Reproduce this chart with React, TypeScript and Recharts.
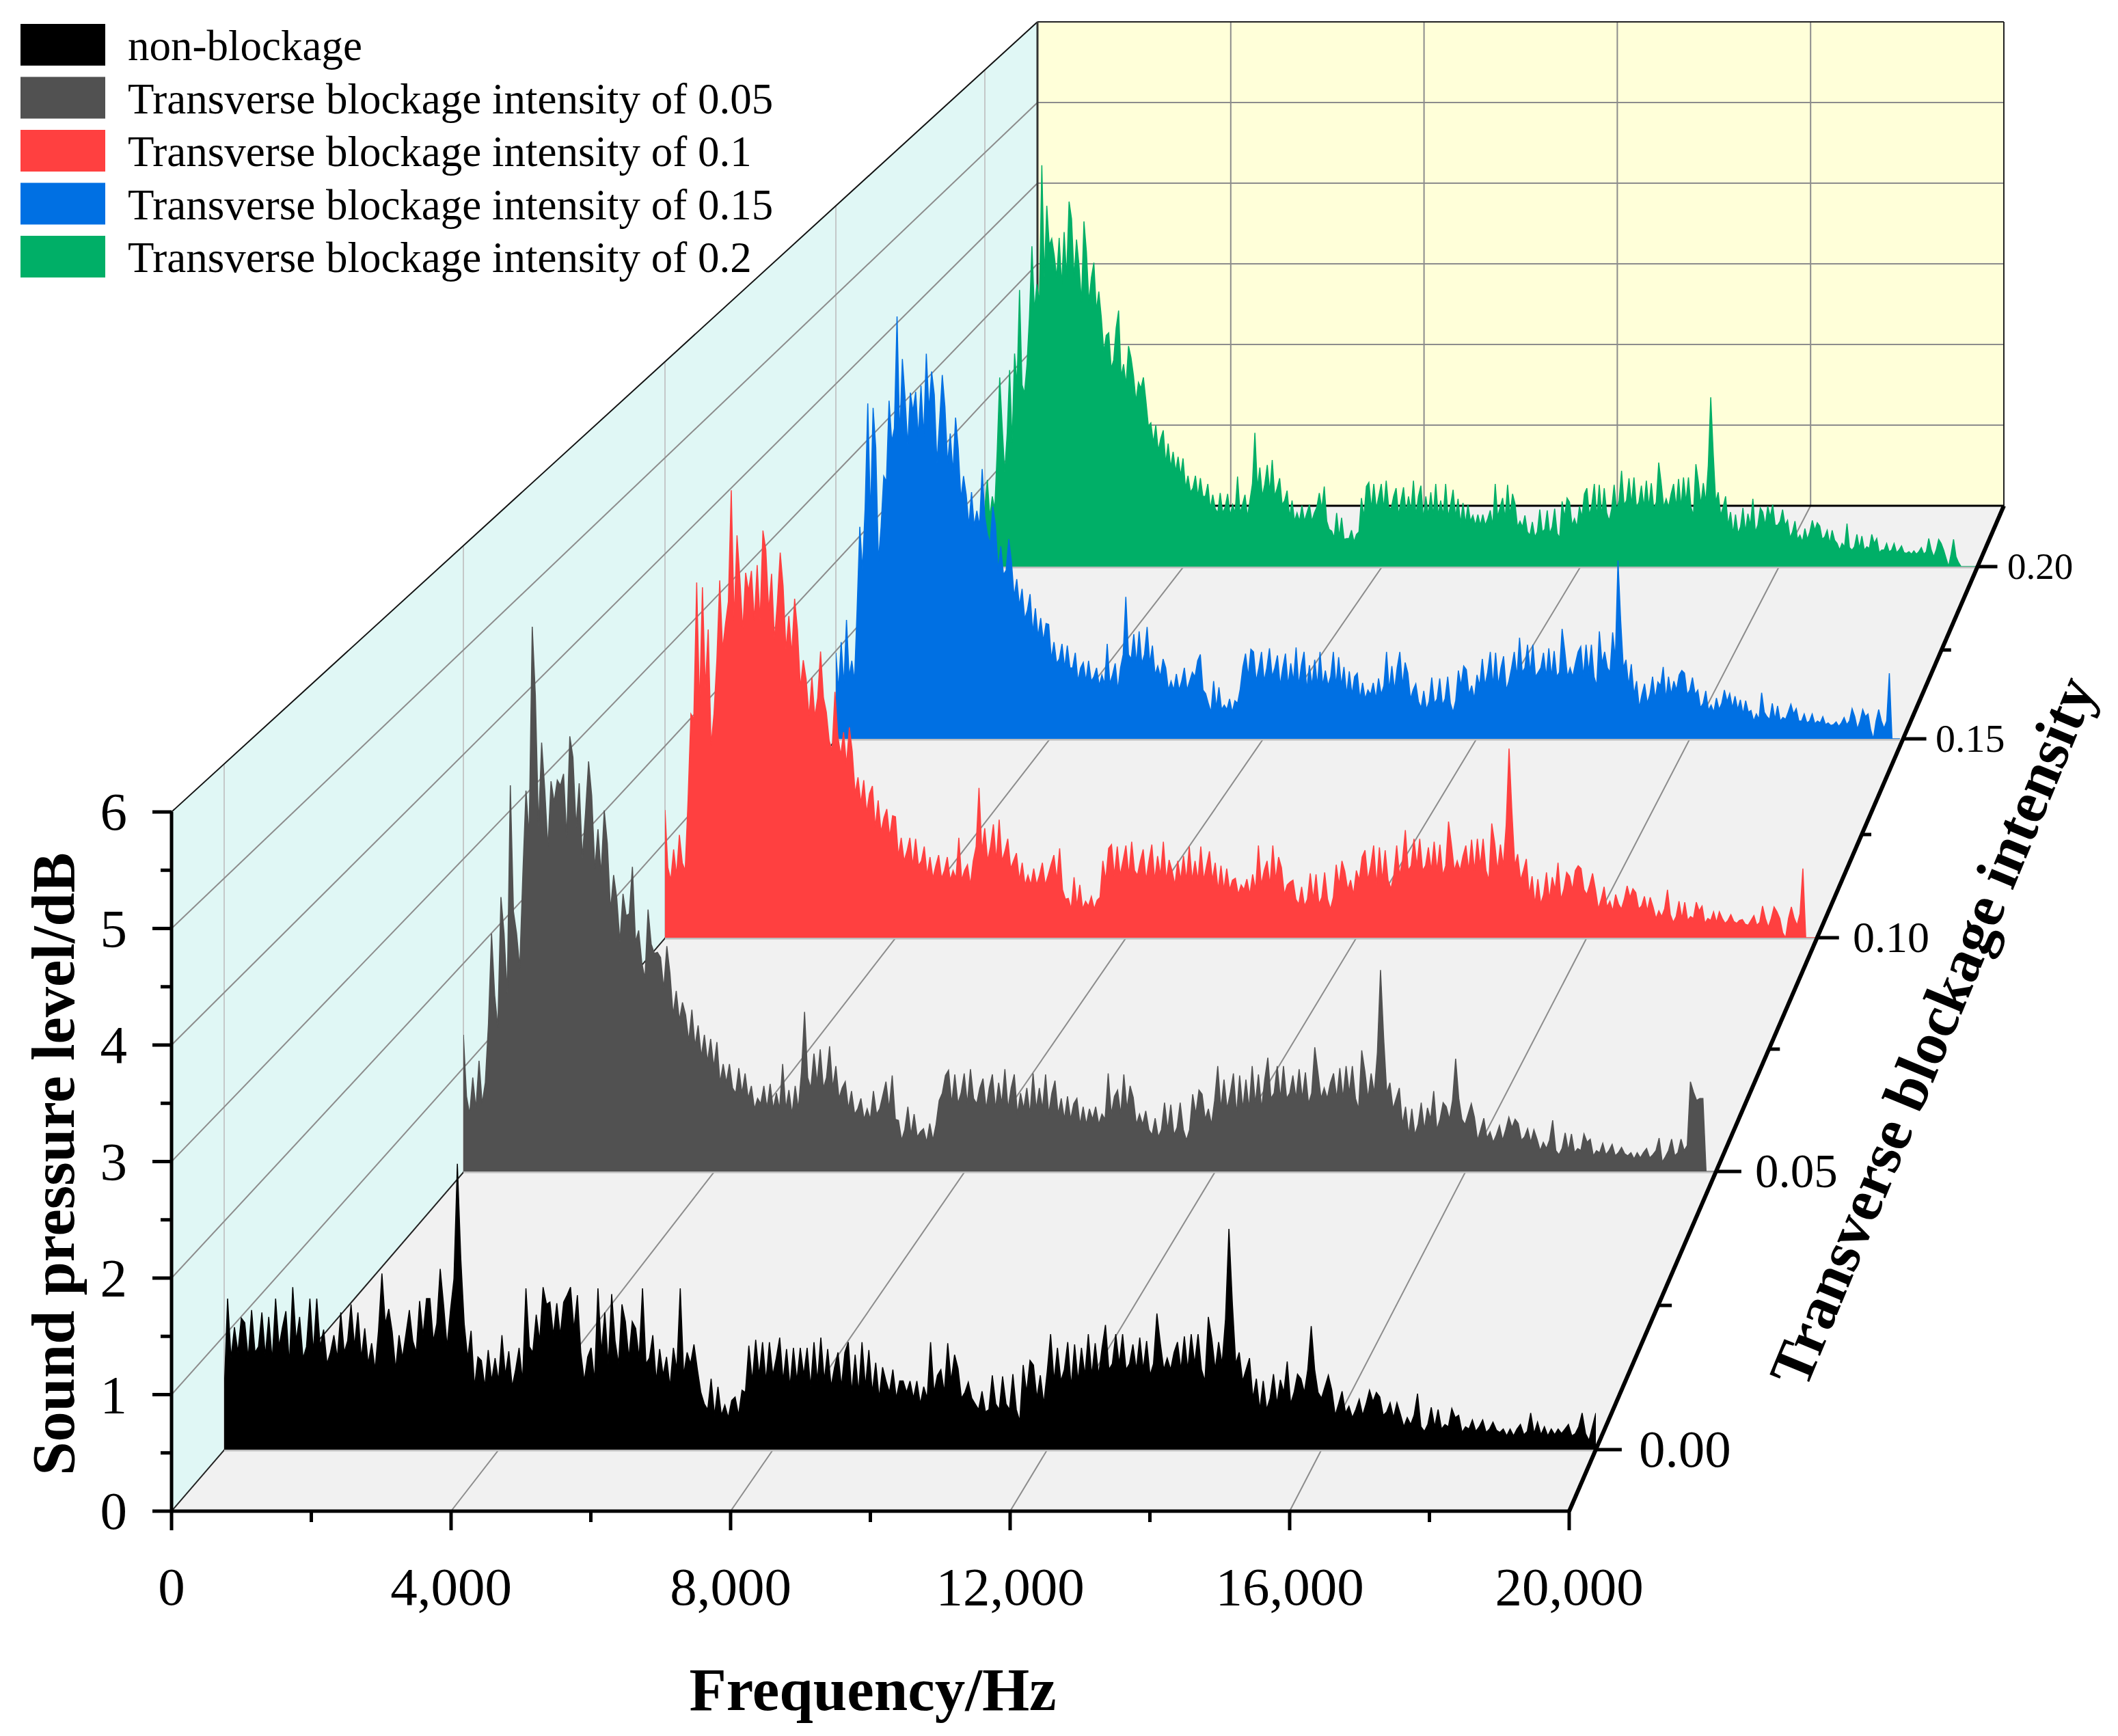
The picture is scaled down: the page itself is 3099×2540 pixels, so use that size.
import { AreaChart, Area, LineChart, Line, XAxis, YAxis } from "recharts";

// Sound pressure level (dB), one reading every 50 Hz from 0 to 20,000 Hz. Each row is 1,000 Hz.
const nonBlockage = [
  .5,1.32,.8,1.07,.85,1.15,1.11,.8,1.22,.85,.9,1.2,.82,1.16,.78,1.32,.9,1.07,1.21,.75,
  1.42,.95,1.16,.8,.9,1.32,.85,1.32,.9,1.05,.75,.85,1,.8,1.2,.85,.95,1.27,.9,1.2,
  .8,1.06,.75,.93,.7,1.04,1.54,1.1,1.23,1.03,.7,1,.8,1.01,1.22,.95,.85,1.3,1,1.32,
  1.32,.95,1.1,1.58,1.26,.9,1.22,1.49,2.5,1.67,1.1,.8,1.04,.55,.81,.78,.55,.87,.6,.8,
  .6,1,.65,.86,.55,.7,.89,.6,1.41,.9,.85,1.18,.95,1.42,1.27,1.29,1,1.28,1,1.29,
  1.35,1.42,1.05,1.35,.85,.6,.81,.89,.6,1.41,.85,1.2,.75,1.36,.95,.75,1.27,1.12,.8,1.12,
  1.06,.8,1.41,.75,.8,1,.6,.88,.65,.81,.55,.89,.7,1.41,.65,.85,.75,.92,.7,.5,
  .4,.35,.62,.3,.55,.3,.39,.28,.43,.46,.3,.52,.5,.91,.6,.96,.65,.94,.6,.94,
  .65,.8,.98,.6,.88,.55,.89,.6,.89,.65,.89,.55,.94,.6,.98,.6,.88,.55,.72,.85,
  .55,.85,.94,.5,.83,.5,.94,.55,.87,.5,.76,.45,.72,.6,.5,.7,.45,.6,.6,.5,
  .6,.45,.6,.4,.55,.45,.94,.5,.65,.7,.5,.93,.6,.83,.71,.45,.5,.59,.45,.4,
  .35,.51,.33,.35,.65,.4,.35,.64,.4,.35,.66,.35,.25,.74,.5,.78,.74,.45,.65,.4,
  .68,1.01,.6,.89,.6,.7,.94,.55,.92,.6,.89,.65,1.01,.65,.93,.65,.89,1.09,.7,.75,
  1.01,.75,1.01,.7,.75,.92,.7,.98,.7,.95,.65,.75,1.19,.93,.7,.8,.7,.85,.94,.7,
  .99,.7,1.01,.75,1.01,.7,.6,1.16,.97,.7,.94,.75,1.14,1.93,1.28,.75,.85,.6,.7,.8,
  .45,.62,.35,.6,.35,.45,.66,.4,.61,.5,.77,.4,.5,.66,.62,.5,.7,1.08,.7,.5,
  .45,.55,.65,.52,.3,.4,.51,.32,.38,.28,.35,.44,.3,.4,.52,.42,.5,.46,.3,.33,
  .41,.28,.41,.31,.2,.28,.22,.3,.49,.2,.16,.22,.37,.2,.35,.18,.22,.2,.36,.28,
  .3,.15,.2,.18,.26,.16,.2,.26,.15,.18,.24,.17,.15,.18,.12,.18,.12,.18,.22,.13,
  .16,.32,.14,.24,.13,.2,.12,.18,.13,.18,.14,.18,.22,.12,.14,.2,.32,.14,.08,.2,
  .32,
];

const blockage005 = [
  1.31,.72,.55,.9,.6,1.06,.65,.85,1.41,2.28,1.69,1.38,2.63,2.28,1.7,3.7,2.49,2.28,1.95,2.85,
  3.65,3.21,5.22,4.56,3.3,4.11,3.66,3.1,3.74,3.54,3.75,3.7,3.81,3.2,4.17,3.97,3.3,3.72,3,3.43,
  3.93,3.6,2.9,3.28,2.85,3.46,3.14,2.5,2.84,2.62,2.2,2.66,2.45,2.47,2.92,2.2,2.31,2,1.85,2.51,
  2.18,2.09,2.1,2.05,1.75,2.16,1.9,1.5,1.73,1.45,1.62,1.5,1.25,1.55,1.2,1.4,1.1,1.31,1.05,1.27,
  1,1.24,.85,1.03,.85,1.03,.8,.75,.99,.75,.94,.7,.82,.6,.7,.65,.82,.6,.84,.6,
  .75,.6,1.03,.6,.78,.55,.82,.6,.95,1.53,.9,.8,1.13,.85,1.17,.8,.9,1.2,.8,1.01,
  .7,.8,.86,.6,.77,.55,.6,.7,.5,.6,.5,.77,.55,.6,.73,.86,.6,.92,.5,.49,
  .3,.4,.62,.35,.55,.33,.38,.41,.28,.46,.3,.45,.68,.75,.92,.97,.65,.93,.65,.75,
  .94,.65,.98,.7,.65,.8,.89,.6,.8,.93,.6,.85,.65,.98,.6,.8,.93,.55,.75,.6,
  .8,.55,.94,.6,.8,.6,.93,.55,.75,.87,.55,.7,.5,.72,.5,.65,.7,.45,.62,.45,
  .6,.5,.62,.45,.55,.5,.94,.55,.72,.78,.55,.93,.6,.82,.71,.45,.55,.45,.58,.4,
  .35,.51,.33,.4,.66,.4,.64,.35,.42,.66,.4,.3,.4,.74,.55,.78,.74,.5,.6,.45,
  .68,1.01,.6,.88,.6,.75,.94,.55,.92,.6,.88,.6,1.01,.65,.93,.6,.88,1.09,.7,.75,
  1.01,.7,1.01,.7,.75,.92,.7,.98,.7,.95,.65,.75,1.19,.95,.7,.8,.7,.85,.94,.7,
  .99,.7,1.01,.75,1.01,.7,.6,1.16,.96,.7,.94,.75,1.14,1.93,1.28,.75,.85,.6,.7,.8,
  .45,.62,.35,.6,.35,.45,.66,.4,.61,.5,.77,.4,.5,.66,.62,.5,.68,1.08,.7,.5,
  .45,.55,.65,.52,.3,.4,.51,.32,.38,.28,.35,.44,.3,.4,.52,.42,.5,.46,.3,.33,
  .41,.28,.4,.31,.2,.28,.22,.3,.49,.2,.16,.22,.37,.2,.36,.18,.22,.2,.36,.28,
  .31,.15,.2,.18,.27,.16,.2,.26,.15,.18,.23,.17,.15,.18,.12,.18,.13,.18,.22,.13,
  .16,.2,.32,.09,.14,.2,.31,.15,.18,.31,.2,.25,.86,.76,.68,.7,.7,0,0,0,
  0,
];

const blockage010 = [
  1.33,.73,.6,.92,.65,1.07,.78,.7,1.43,2.33,2.28,3.7,2.4,3.65,2.6,3.21,2,2.33,2.89,3.72,
  3,3.27,3.5,4.66,3.3,4.19,3.74,3.2,3.8,3.61,3.82,3.3,3.88,3.3,4.24,4.04,3.4,3.79,3.1,3.49,
  4.01,3.66,3,3.35,2.95,3.53,3.2,2.6,2.89,2.69,2.3,2.71,2.3,2.5,2.98,2.5,2.35,2.05,1.95,2.56,
  2.1,1.9,2.14,1.8,2.19,1.94,1.5,1.67,1.4,1.64,1.3,1.5,1.58,1.15,1.43,1.1,1.25,1.34,1.05,1.27,
  1.26,.85,1.04,.8,.9,1.04,.75,1.03,.75,.8,.95,.65,.84,.62,.75,.86,.62,.7,.84,.6,
  .7,.62,1.04,.6,.7,.76,.55,.8,.95,1.56,.9,1.14,.8,.95,1.18,.8,1.23,.8,.9,1.03,
  .72,.8,.88,.6,.78,.55,.65,.55,.72,.55,.65,.78,.55,.65,.76,.86,.6,.93,.5,.4,
  .41,.3,.63,.33,.55,.3,.38,.33,.43,.3,.39,.42,.8,.6,.93,.97,.65,.95,.65,.8,
  .96,.65,1,.7,.65,.8,.92,.6,.8,.97,.6,.85,.65,1,.6,.81,.7,.55,.8,.6,
  .85,.6,.95,.6,.8,.6,.95,.6,.75,.9,.6,.78,.5,.75,.5,.72,.5,.6,.62,.45,
  .55,.5,.61,.45,.66,.5,.96,.55,.7,.8,.55,.96,.6,.84,.73,.45,.55,.58,.6,.4,
  .35,.53,.33,.4,.67,.4,.66,.35,.42,.68,.4,.3,.42,.76,.55,.8,.69,.5,.6,.45,
  .7,.6,.84,.91,.6,.75,.96,.55,.94,.6,.91,.6,.51,.65,.96,.65,.8,1.12,.7,.75,
  1.03,.75,1.03,.7,.75,.94,.7,1,.7,.97,.65,.75,1.21,.97,.7,.8,.7,.85,.96,.7,
  1.02,.7,1.03,.75,1.03,.7,.6,1.19,.99,.7,.97,.75,1.17,1.97,1.31,.75,.87,.6,.7,.82,
  .45,.64,.35,.61,.35,.45,.68,.4,.63,.5,.78,.4,.5,.68,.64,.5,.7,.75,.72,.5,
  .45,.55,.67,.5,.3,.4,.53,.32,.38,.28,.45,.35,.3,.4,.54,.42,.51,.47,.3,.33,
  .43,.28,.42,.32,.2,.28,.22,.3,.5,.24,.16,.22,.38,.2,.37,.18,.22,.2,.37,.28,
  .33,.15,.2,.18,.27,.16,.27,.2,.15,.18,.24,.17,.15,.18,.19,.14,.13,.18,.23,.13,
  .16,.33,.2,.11,.2,.32,.27,.2,.05,0,.2,.32,.2,.13,.25,.72,0,0,0,0,
  0,
];

const blockage015 = [
  .97,.55,1.09,.6,1.34,.7,.88,.65,1.47,2.39,1.9,2.6,3.78,2.5,3.73,3.28,2,2.39,2.96,2.9,
  3.81,3.35,3.5,4.76,3.4,4.28,3.85,3.3,3.9,3.69,3.91,3.4,3.98,3.4,4.34,3.7,4.14,3.88,3.1,3.58,
  4.1,3.74,3.1,3.44,3,3.62,3.27,2.7,2.96,2.75,2.4,2.78,2.4,2.57,2.4,3.04,2.5,2.3,2.2,2.62,
  2.41,1.9,2.17,1.85,1.9,2.25,2,1.6,1.8,1.5,1.69,1.35,1.45,1.63,1.2,1.47,1.15,1.36,1.1,1.3,
  1.29,.9,1.09,.85,.9,1.07,.8,1.05,.8,.8,.97,.65,.8,.86,.65,.88,.65,.7,.8,.6,
  .72,.62,1.07,.62,.72,.85,.55,.8,.95,1.6,.95,.9,1.18,.85,1.21,.85,.95,1.26,.85,1.05,
  .72,.82,.7,.9,.8,.55,.65,.55,.73,.55,.65,.8,.55,.65,.75,.7,.88,.95,.55,.51,
  .4,.3,.65,.35,.58,.33,.38,.33,.45,.3,.43,.4,.56,.81,.96,.7,1.01,.98,.65,.8,
  .98,.65,.8,1.02,.7,.8,.94,.6,.8,.96,.6,.85,.65,1.03,.6,.83,.98,.55,.83,.6,
  .89,.6,.98,.6,.77,.6,.7,.98,.6,.92,.6,.81,.5,.76,.5,.7,.74,.45,.63,.45,
  .55,.5,.63,.45,.68,.5,.6,.98,.55,.82,.55,.8,.98,.6,.86,.74,.45,.55,.62,.42,
  .35,.54,.33,.42,.69,.4,.45,.68,.38,.45,.7,.4,.3,.43,.77,.6,.82,.78,.5,.6,
  .45,.72,.6,.9,.6,.75,.98,.6,.97,.6,.8,.93,.55,.65,.8,.98,.7,1.14,.75,.8,
  1.06,.75,1.06,.7,.75,.8,.97,.7,1.02,.7,.99,.7,.75,1.24,.99,.7,.8,.7,.85,.98,
  1.04,.7,1.06,.75,1.06,.7,.6,1.21,.85,.98,.8,.75,1.2,.9,2.01,1.34,.8,.89,.6,.84,
  .5,.65,.35,.5,.62,.4,.5,.7,.45,.64,.6,.81,.45,.7,.5,.65,.55,.72,.77,.74,
  .5,.55,.69,.5,.55,.35,.4,.54,.32,.38,.3,.46,.33,.4,.55,.42,.51,.35,.48,.33,
  .44,.28,.43,.3,.32,.2,.28,.22,.52,.3,.25,.22,.4,.22,.37,.2,.24,.22,.3,.39,
  .28,.34,.2,.2,.28,.18,.2,.28,.17,.2,.18,.25,.16,.18,.15,.16,.19,.14,.18,.24,
  .16,.2,.34,.25,.11,.2,.33,.25,.28,.1,0,.2,.33,.2,.12,.2,.74,0,0,0,
  0,
];

const blockage020 = [
  .72,1.05,.6,.85,.7,1.41,2.29,1.69,1.14,1.6,2.38,1.5,2.58,2.2,3.35,2.2,2.1,2.44,3.02,3.88,
  3.1,3.42,3.2,4.86,3.5,4.37,3.89,3.97,3.77,3.5,3.98,3.4,4.05,3.5,4.42,4.21,3.5,3.96,3.65,3.2,
  4.18,3.81,3.2,3.5,3.68,3.1,3.33,3.02,2.6,2.8,2.83,2.4,2.5,2.89,3.1,2.3,2.45,2.2,2.67,2.53,
  2.31,2,2.23,2.16,2.29,2.01,1.7,1.74,1.5,1.71,1.4,1.55,1.65,1.25,1.49,1.2,1.39,1.15,1.33,1.1,
  1.31,.95,1.1,.9,.95,1.1,.85,1.07,.85,.85,1,.7,.87,.7,.65,.89,.65,.72,.88,.62,
  .75,.65,1.09,.65,.75,.87,.6,.8,1,1.62,.95,1.2,.85,1,1.23,.9,1.29,.85,.95,1.07,
  .75,.8,.92,.6,.8,.55,.65,.55,.74,.55,.65,.75,.55,.65,.72,.89,.7,.97,.55,.45,
  .43,.35,.65,.36,.59,.33,.34,.34,.44,.3,.39,.42,.83,.6,.97,1.02,.7,1,.7,.85,
  1,.7,1.04,.72,.7,.85,.95,.62,.8,.96,.65,.85,.68,1.04,.62,.85,.98,.58,.85,.62,
  .9,.62,1,.62,.8,.62,1,.6,.75,.93,.6,.82,.52,.77,.52,.75,.55,.62,.5,.63,
  .5,.63,.5,.58,.68,.5,1,.6,.72,.83,.58,.99,.62,.88,.76,.48,.55,.48,.62,.42,
  .38,.54,.36,.42,.69,.42,.45,.68,.4,.48,.7,.4,.35,.79,.6,.83,.78,.5,.58,.48,
  .73,.6,.88,.95,.62,.75,1,.6,.99,.62,.95,.65,.55,.7,.99,.68,.8,1.16,.75,.8,
  1.07,.75,1.08,.72,.78,.98,.72,1.04,.72,1.01,.7,.78,1.26,1.01,.72,.82,.72,.88,1,.72,
  1.06,.72,1.08,.78,1.08,.72,.62,1.24,1.03,.75,1.01,.78,1.22,2.05,1.37,.78,.9,.62,.72,.85,
  .5,.66,.4,.63,.4,.48,.71,.42,.64,.5,.82,.42,.5,.71,.66,.5,.73,.6,.75,.5,
  .5,.55,.69,.5,.56,.35,.42,.55,.33,.38,.3,.46,.33,.42,.56,.44,.53,.49,.33,.36,
  .44,.28,.44,.32,.28,.2,.28,.24,.52,.23,.2,.24,.39,.22,.37,.2,.24,.22,.39,.28,
  .34,.17,.2,.2,.28,.18,.2,.28,.17,.2,.25,.17,.16,.18,.15,.19,.15,.18,.23,.15,
  .18,.34,.2,.12,.2,.33,.28,.2,.1,0,.15,.33,.12,.05,0,0,0,0,0,0,
  0,
];

const legendLabels = [
  "non-blockage",
  "Transverse blockage intensity of 0.05",
  "Transverse blockage intensity of 0.1",
  "Transverse blockage intensity of 0.15",
  "Transverse blockage intensity of 0.2",
];
const seriesColors = ["#000000", "#515151", "#FF4040", "#0070E3", "#00AF67"];
const depthLabels = ["0.00", "0.05", "0.10", "0.15", "0.20"];
const freqTicks = [0, 2000, 4000, 6000, 8000, 10000, 12000, 14000, 16000, 18000, 20000];
const splTicks = [0, 0.5, 1, 1.5, 2, 2.5, 3, 3.5, 4, 4.5, 5, 5.5, 6];

const FONT = "'Liberation Serif', 'Times New Roman', serif";

// layout of the fake 3D box, in page pixels
const FRONT = { left: 251, right: 2296, top: 1188, bottom: 2211 };
const BACK = { left: 1518, right: 2932, top: 32, bottom: 740 };
const sliceBase = [2121, 1714, 1372, 1081, 829];
const sliceLeft = [328, 678, 973, 1223, 1441];
const sliceRight = [2335, 2510, 2659, 2780, 2891];
const minorDepthY = [1910, 1535, 1221, 951];
const majorTickLen = [38, 37, 32, 34, 29];
const minorTickLen = [20, 16, 14, 14];
const depthFont = [77, 69, 64, 58, 55];
const depthLabelX = [2398, 2568, 2711, 2832, 2937];

const frontX = (f: number) => FRONT.left + (f / 20000) * (FRONT.right - FRONT.left);
const backX = (f: number) => BACK.left + (f / 20000) * (BACK.right - BACK.left);
const edgeRightX = (y: number) =>
  FRONT.right + ((FRONT.bottom - y) * (BACK.right - FRONT.right)) / (FRONT.bottom - BACK.bottom);
const wallTopY = (x: number) =>
  FRONT.top - ((x - FRONT.left) * (FRONT.top - BACK.top)) / (BACK.left - FRONT.left);
const wallBottomY = (x: number) =>
  FRONT.bottom - ((x - FRONT.left) * (FRONT.bottom - BACK.bottom)) / (BACK.left - FRONT.left);

const series = [nonBlockage, blockage005, blockage010, blockage015, blockage020];
const frontPxPerDb = (FRONT.bottom - FRONT.top) / 6;

function Backdrop() {
  const grey = "#8C8C8C";
  return (
    <svg width={3099} height={2540} style={{ position: "absolute", left: 0, top: 0 }}>
      <polygon
        points={`${FRONT.left},${FRONT.top} ${BACK.left},${BACK.top} ${BACK.left},${BACK.bottom} ${FRONT.left},${FRONT.bottom}`}
        fill="#E0F7F5"
      />
      <rect x={BACK.left} y={BACK.top} width={BACK.right - BACK.left} height={BACK.bottom - BACK.top} fill="#FFFFD9" />
      <polygon
        points={`${FRONT.left},${FRONT.bottom} ${FRONT.right},${FRONT.bottom} ${BACK.right},${BACK.bottom} ${BACK.left},${BACK.bottom}`}
        fill="#F1F1F1"
      />
      {/* side wall */}
      {sliceLeft.map((x) => (
        <line key={x} x1={x} y1={wallTopY(x)} x2={x} y2={wallBottomY(x)} stroke="#C4C8C8" strokeWidth={2} />
      ))}
      {[1, 2, 3, 4, 5].map((k) => (
        <line
          key={k}
          x1={FRONT.left}
          y1={FRONT.bottom - k * frontPxPerDb}
          x2={BACK.left}
          y2={BACK.bottom - (k * (BACK.bottom - BACK.top)) / 6}
          stroke={grey}
          strokeWidth={2}
        />
      ))}
      {/* back wall */}
      {[1, 2, 3, 4, 5].map((k) => (
        <line
          key={k}
          x1={BACK.left}
          x2={BACK.right}
          y1={BACK.bottom - (k * (BACK.bottom - BACK.top)) / 6}
          y2={BACK.bottom - (k * (BACK.bottom - BACK.top)) / 6}
          stroke={grey}
          strokeWidth={2}
        />
      ))}
      {[4000, 8000, 12000, 16000].map((f) => (
        <g key={f}>
          <line x1={backX(f)} x2={backX(f)} y1={BACK.top} y2={BACK.bottom} stroke={grey} strokeWidth={2} />
          <line x1={frontX(f)} y1={FRONT.bottom} x2={backX(f)} y2={BACK.bottom} stroke={grey} strokeWidth={2} />
        </g>
      ))}
      {/* box edges */}
      <line x1={FRONT.left} y1={FRONT.top} x2={BACK.left} y2={BACK.top} stroke="#111" strokeWidth={2} />
      <line x1={FRONT.left} y1={FRONT.bottom} x2={BACK.left} y2={BACK.bottom} stroke="#222" strokeWidth={2} />
      <line x1={BACK.left} y1={BACK.top} x2={BACK.right} y2={BACK.top} stroke="#222" strokeWidth={2} />
      <line x1={BACK.left} y1={BACK.top} x2={BACK.left} y2={BACK.bottom} stroke="#333" strokeWidth={3} />
      <line x1={BACK.right} y1={BACK.top} x2={BACK.right} y2={BACK.bottom} stroke="#222" strokeWidth={2} />
      <line x1={BACK.left} y1={BACK.bottom} x2={BACK.right} y2={BACK.bottom} stroke="#000" strokeWidth={3} />
      {/* thin shadow under each slice */}
      {sliceBase.map((y, i) => (
        <line key={y} x1={sliceLeft[i]} x2={sliceRight[i]} y1={y + 1} y2={y + 1} stroke="#BDBDBD" strokeWidth={3} />
      ))}
    </svg>
  );
}

function Slice({ index }: { index: number }) {
  const width = sliceRight[index] - sliceLeft[index];
  const height = Math.round(frontPxPerDb * 6 * (width / (FRONT.right - FRONT.left)));
  const data = series[index].map((spl, i) => ({ freq: i * 50, spl }));
  return (
    <div style={{ position: "absolute", left: sliceLeft[index], top: sliceBase[index] - height }}>
      <AreaChart width={width} height={height} data={data} margin={{ top: 0, right: 0, bottom: 0, left: 0 }}>
        <XAxis dataKey="freq" type="number" domain={[0, 20000]} hide />
        <YAxis type="number" domain={[0, 6]} hide />
        <Area
          type="linear"
          dataKey="spl"
          stroke={seriesColors[index]}
          strokeWidth={1.5}
          fill={seriesColors[index]}
          fillOpacity={1}
          dot={false}
          activeDot={false}
          isAnimationActive={false}
        />
      </AreaChart>
    </div>
  );
}

function FreqTick({ x, y, payload }: any) {
  const major = payload.value % 4000 === 0;
  return (
    <g>
      <line x1={x} x2={x} y1={y} y2={y + (major ? 28 : 16)} stroke="#000" strokeWidth={5} />
      {major && (
        <text x={x} y={y + 137} textAnchor="middle" fontSize={79} fontFamily={FONT} fill="#000">
          {payload.value.toLocaleString("en-US")}
        </text>
      )}
    </g>
  );
}

function SplTick({ x, y, payload }: any) {
  const major = Number.isInteger(payload.value);
  return (
    <g>
      <line x1={x} x2={x - (major ? 28 : 16)} y1={y} y2={y} stroke="#000" strokeWidth={5} />
      {major && (
        <text x={x - 65} y={y + 26} textAnchor="end" fontSize={79} fontFamily={FONT} fill="#000">
          {payload.value}
        </text>
      )}
    </g>
  );
}

function FrontAxes() {
  const data = [
    { freq: 0, v: 0 },
    { freq: 20000, v: 0 },
  ];
  return (
    <div style={{ position: "absolute", left: 0, top: 0 }}>
      <LineChart
        width={3099}
        height={2540}
        data={data}
        margin={{ left: FRONT.left - 100, right: 3099 - FRONT.right, top: FRONT.top, bottom: 2540 - FRONT.bottom - 100 }}
      >
        <XAxis
          dataKey="freq"
          type="number"
          domain={[0, 20000]}
          ticks={freqTicks}
          interval={0}
          height={100}
          tickSize={0}
          tickMargin={0}
          tick={FreqTick}
          axisLine={{ stroke: "#000", strokeWidth: 5 }}
        />
        <YAxis
          type="number"
          domain={[0, 6]}
          ticks={splTicks}
          interval={0}
          width={100}
          tickSize={0}
          tickMargin={0}
          tick={SplTick}
          axisLine={{ stroke: "#000", strokeWidth: 5 }}
        />
        <Line dataKey="v" stroke="none" dot={false} activeDot={false} isAnimationActive={false} />
      </LineChart>
    </div>
  );
}

function Overlay() {
  return (
    <svg width={3099} height={2540} style={{ position: "absolute", left: 0, top: 0 }} fontFamily={FONT}>
      {/* depth axis */}
      <line x1={FRONT.right} y1={FRONT.bottom} x2={BACK.right} y2={BACK.bottom} stroke="#000" strokeWidth={6} />
      {sliceBase.map((y, i) => (
        <g key={y}>
          <line x1={edgeRightX(y)} x2={edgeRightX(y) + majorTickLen[i]} y1={y} y2={y} stroke="#000" strokeWidth={5} />
          <text x={depthLabelX[i]} y={y + depthFont[i] * 0.33} fontSize={depthFont[i]} fill="#000">
            {depthLabels[i]}
          </text>
        </g>
      ))}
      {minorDepthY.map((y, i) => (
        <line key={y} x1={edgeRightX(y)} x2={edgeRightX(y) + minorTickLen[i]} y1={y} y2={y} stroke="#000" strokeWidth={5} />
      ))}
      {/* titles */}
      <text x={1277} y={2502} textAnchor="middle" fontSize={89} fontWeight="bold" fill="#000">
        Frequency/Hz
      </text>
      <text
        x={108}
        y={1703}
        textAnchor="middle"
        fontSize={88.5}
        fontWeight="bold"
        fill="#000"
        transform="rotate(-90 108 1703)"
      >
        Sound pressure level/dB
      </text>
      <text
        x={2855}
        y={1520}
        textAnchor="middle"
        fontSize={88}
        fontWeight="bold"
        fill="#000"
        transform="rotate(-67.5 2855 1520)"
      >
        Transverse blockage intensity
      </text>
      {/* legend */}
      {legendLabels.map((label, i) => (
        <g key={label}>
          <rect x={30} y={35 + i * 77.5} width={124} height={61} fill={seriesColors[i]} />
          <text x={187} y={88 + i * 77.5} fontSize={63} fill="#000">
            {label}
          </text>
        </g>
      ))}
    </svg>
  );
}

export default function App() {
  return (
    <div style={{ position: "absolute", left: 0, top: 0, width: 3099, height: 2540, background: "#fff", overflow: "hidden" }}>
      <Backdrop />
      {[4, 3, 2, 1, 0].map((i) => (
        <Slice key={i} index={i} />
      ))}
      <FrontAxes />
      <Overlay />
    </div>
  );
}
